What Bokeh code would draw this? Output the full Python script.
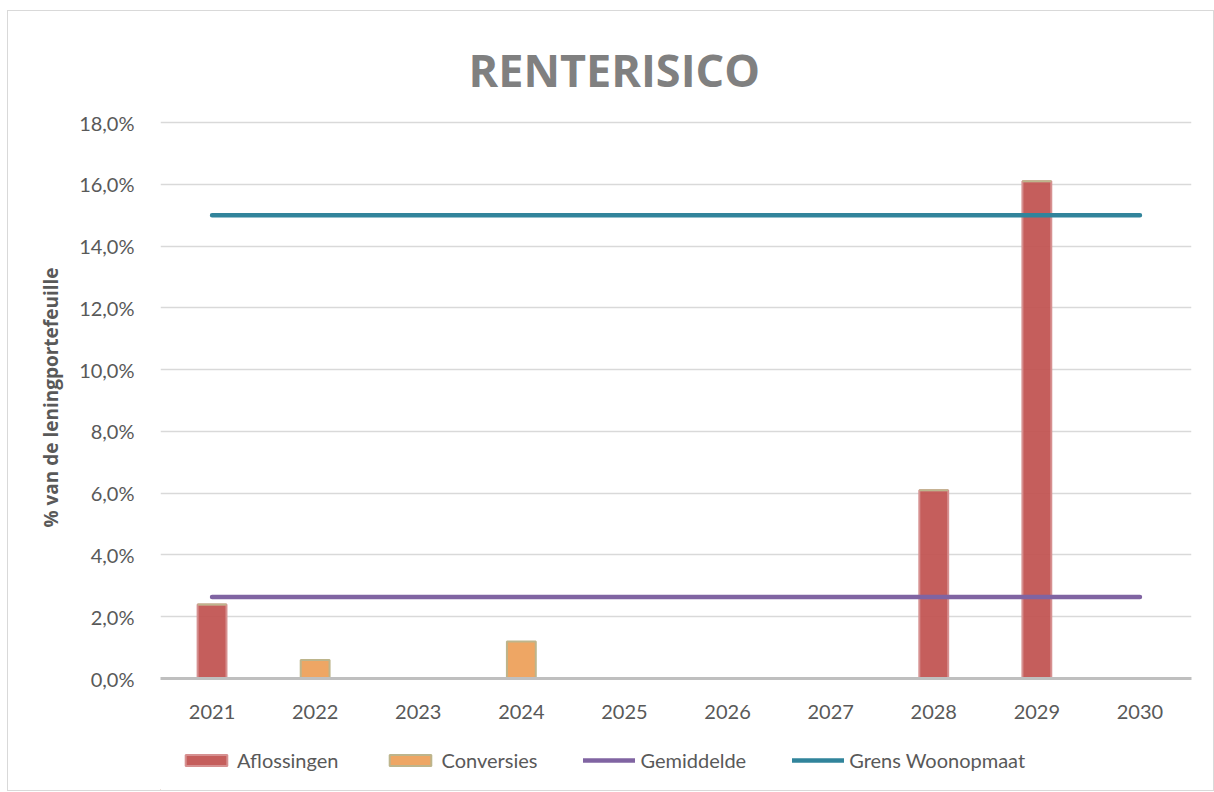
from bokeh.plotting import figure
from bokeh.models import Range1d, FixedTicker, Legend, LegendItem, ColumnDataSource
from bokeh.layouts import column
from bokeh.embed import file_html
from bokeh.resources import INLINE

years = ["2021", "2022", "2023", "2024", "2025", "2026", "2027", "2028", "2029", "2030"]
aflossingen = [2.4, 0.0, 0.0, 0.0, 0.0, 0.0, 0.0, 6.1, 16.1, 0.0]
conversies = [0.0, 0.6, 0.0, 1.2, 0.0, 0.0, 0.0, 0.0, 0.0, 0.0]
gemiddelde = [2.64, 2.64, 2.64, 2.64, 2.64, 2.64, 2.64, 2.64, 2.64, 2.64]
grens = [15.0, 15.0, 15.0, 15.0, 15.0, 15.0, 15.0, 15.0, 15.0, 15.0]
y_ticks = [0, 2, 4, 6, 8, 10, 12, 14, 16, 18]
y_tick_labels = ["0,0%", "2,0%", "4,0%", "6,0%", "8,0%", "10,0%", "12,0%", "14,0%", "16,0%", "18,0%"]
series_names = ["Aflossingen", "Conversies", "Gemiddelde", "Grens Woonopmaat"]

FONT = "Lato"
TXT = "#595959"
BAR_FILL = ["#c25553", "#eda15c"]
BAR_LINE = ["#d69090", "#bdb58c"]
LINE_COL = ["#8064a2", "#31849b"]

src = ColumnDataSource(dict(x=years, Aflossingen=aflossingen, Conversies=conversies))

p = figure(x_range=years, y_range=Range1d(0, 18.2), frame_width=1031, frame_height=562,
           output_backend="svg", toolbar_location=None,
           min_border_left=152, min_border_right=14, min_border_top=105, min_border_bottom=52)

p.title.text = "RENTERISICO"
p.title.text_font = "Open Sans"
p.title.text_font_size = "45px"
p.title.text_font_style = "bold"
p.title.text_color = "#808080"
p.title.align = "left"
p.title.offset = 308
p.title.standoff = 33

p.outline_line_color = None
p.background_fill_color = "white"
p.border_fill_color = "white"

# bars
bars = p.vbar_stack(["Aflossingen", "Conversies"], x="x", width=0.28, source=src,
                    fill_color=BAR_FILL, line_color=BAR_LINE, line_width=2, fill_alpha=0.95)

# lines
l1 = p.line(years, gemiddelde, line_color=LINE_COL[0], line_width=4.5, line_cap="round")
l2 = p.line(years, grens, line_color=LINE_COL[1], line_width=4.5, line_cap="round")

# axes
p.yaxis.ticker = FixedTicker(ticks=y_ticks)
p.yaxis.major_label_overrides = {t: l for t, l in zip(y_ticks, y_tick_labels)}
p.yaxis.axis_line_color = None
p.yaxis.major_tick_line_color = None
p.yaxis.minor_tick_line_color = None
p.yaxis.major_label_standoff = 20
p.yaxis.major_label_text_font = FONT
p.yaxis.major_label_text_font_size = "20px"
p.yaxis.major_label_text_color = TXT
p.yaxis.axis_label = "% van de leningportefeuille"
p.yaxis.axis_label_text_font = "Open Sans"
p.yaxis.axis_label_text_font_style = "bold"
p.yaxis.axis_label_text_font_size = "19px"
p.yaxis.axis_label_text_color = TXT
p.yaxis.axis_label_standoff = 12

p.xaxis.axis_line_color = "#bfbfbf"
p.xaxis.axis_line_width = 3
p.xaxis.major_tick_line_color = None
p.xaxis.minor_tick_line_color = None
p.xaxis.major_label_standoff = 20
p.xaxis.major_label_text_font = FONT
p.xaxis.major_label_text_font_size = "20px"
p.xaxis.major_label_text_color = TXT

p.xgrid.grid_line_color = None
p.ygrid.grid_line_color = "#d9d9d9"
p.ygrid.grid_line_width = 1.5

# legend strip (separate figure so that it sits below the axis);
# its proxy glyphs lie outside the visible range and only serve the legend swatches
lg = figure(width=1205, height=60, x_range=Range1d(0, 1), y_range=Range1d(0, 1),
            output_backend="svg", toolbar_location=None,
            x_axis_location=None, y_axis_location=None, min_border=0)
lg.outline_line_color = None
lg.grid.grid_line_color = None
lg.background_fill_color = "white"
lg.border_fill_color = "white"
d1 = lg.vbar(x=[-10], top=[-10], width=0.28, fill_color=BAR_FILL[0], line_color=BAR_LINE[0],
             line_width=2, fill_alpha=0.95)
d2 = lg.vbar(x=[-10], top=[-10], width=0.28, fill_color=BAR_FILL[1], line_color=BAR_LINE[1],
             line_width=2, fill_alpha=0.95)
d3 = lg.line(x=[-10, -9], y=[-10, -10], line_color=LINE_COL[0], line_width=4.5, line_cap="round")
d4 = lg.line(x=[-10, -9], y=[-10, -10], line_color=LINE_COL[1], line_width=4.5, line_cap="round")

legend = Legend(items=[LegendItem(label=n, renderers=[r]) for n, r in zip(series_names, [d1, d2, d3, d4])],
                orientation="horizontal", location=(20, 18))
legend.glyph_width = 52
legend.glyph_height = 14
legend.label_standoff = 5
legend.spacing = 46
legend.label_text_font = FONT
legend.label_text_font_size = "20px"
legend.label_text_color = TXT
legend.border_line_color = None
legend.background_fill_alpha = 0
legend.padding = 4
legend.margin = 0
lg.add_layout(legend, "center")

layout = column(p, lg, spacing=0,
                styles={"border": "1px solid #d9d9d9", "margin-left": "7px", "margin-top": "10px"})

open("out.html", "w").write(file_html(layout, INLINE))
